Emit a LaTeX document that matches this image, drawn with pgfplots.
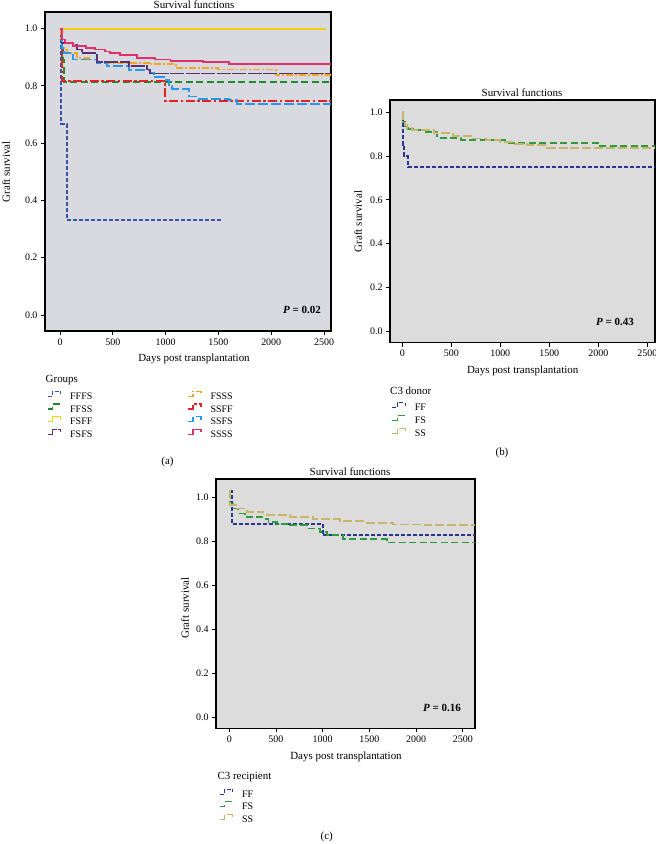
\documentclass[border=0pt]{standalone}
\usepackage{pgfplots}
\pgfplotsset{compat=1.18}
\usepackage{fontspec}
\setmainfont{Liberation Serif}

\definecolor{bga}{HTML}{D9DAE0}
\definecolor{bgb}{HTML}{DCDCDC}
\definecolor{cFFFS}{HTML}{3555AA}
\definecolor{cFFSS}{HTML}{1E8A2A}
\definecolor{cFSFF}{HTML}{F5D010}
\definecolor{cFSFS}{HTML}{5A3274}
\definecolor{cFSSS}{HTML}{F5A428}
\definecolor{cSSFF}{HTML}{E02424}
\definecolor{cSSFS}{HTML}{2A98E8}
\definecolor{cSSSS}{HTML}{E0306C}
\definecolor{cFF}{HTML}{2A3591}
\definecolor{cFS}{HTML}{2E9C3C}
\definecolor{cSS}{HTML}{C9B46A}

\pgfplotsset{
  km/.style={
    scale only axis,
    anchor=south west,
    axis line style={line width=1.1bp, black},
    tick pos=left, tick align=outside, major tick length=4bp,
    tick style={black, line width=0.8bp},
    xtick={0,500,1000,1500,2000,2500},
    ytick={0,0.2,0.4,0.6,0.8,1},
    /pgf/number format/assume math mode=true,
    tick label style={font=\fontsize{10}{12}\selectfont},
    xticklabel style={/pgf/number format/1000 sep={}},
    yticklabel style={/pgf/number format/fixed, /pgf/number format/fixed zerofill, /pgf/number format/precision=1},
    every axis plot/.append style={const plot, line width=1.9bp},
    legend image code/.code={\draw[#1, line width=1.2bp] (0bp,1bp)--(5bp,1bp)--(5bp,6bp)--(13bp,6bp)--(13bp,3bp);},
    legend cell align=left,
    legend style={draw=none, fill=none, inner sep=0pt, outer sep=0pt, anchor=north west,
      font=\fontsize{10}{10}\selectfont,
      nodes={inner sep=1bp, text height=7bp, text depth=3bp},
      /tikz/every odd column/.append style={column sep=8bp}},
  }
}

\begin{document}
\begin{tikzpicture}[x=1bp,y=1bp]
\path[use as bounding box] (0,0) rectangle (656,844);

% ---------------- Panel (a)
\begin{axis}[km, at={(45bp,513bp)}, width=286bp, height=319bp,
  xmin=-142, xmax=2566, ymin=-0.056, ymax=1.058,
  axis background/.style={fill=bga},
  legend columns=2,
  legend style={at={(0.007,-0.1875)},
    /tikz/every even column/.append style={column sep=94bp}}]
\addplot[cFFFS, dash pattern=on 4bp off 2bp] coordinates {(0,1.0) (12,0.667) (63,0.333) (1530,0.333)};
\addlegendentry{FFFS}
\addplot[cFSSS, dash pattern=on 7bp off 2bp on 2bp off 2bp] coordinates {(0,1.0) (8,0.96) (20,0.94) (35,0.927) (63,0.914) (160,0.897) (285,0.892) (350,0.884) (445,0.881) (856,0.876) (1100,0.862) (1500,0.857) (2045,0.837) (2600,0.837)};
\addlegendentry{FSSS}
\addplot[cFFSS, dash pattern=on 7bp off 3.5bp] coordinates {(0,1.0) (15,0.93) (25,0.89) (35,0.815) (2600,0.815)};
\addlegendentry{FFSS}
\addplot[cSSFF, dash pattern=on 9bp off 2.5bp on 2.5bp off 2.5bp] coordinates {(0,1.0) (20,0.816) (998,0.748) (2600,0.748)};
\addlegendentry{SSFF}
\addplot[cFSFF] coordinates {(0,1.0) (2515,1.0)};
\addlegendentry{FSFF}
\addplot[cSSFS, dash pattern=on 10bp off 3bp] coordinates {(0,1.0) (16,0.932) (38,0.914) (127,0.892) (349,0.88) (444,0.868) (650,0.854) (856,0.845) (888,0.83) (983,0.822) (1030,0.80) (1060,0.789) (1220,0.763) (1315,0.754) (1600,0.75) (1680,0.737) (2600,0.737)};
\addlegendentry{SSFS}
\addplot[cFSFS, dash pattern=on 14bp off 1.5bp] coordinates {(0,1.0) (20,0.95) (127,0.944) (158,0.927) (206,0.914) (348,0.884) (650,0.868) (824,0.857) (856,0.843) (2600,0.843)};
\addlegendentry{FSFS}
\addplot[cSSSS] coordinates {(0,1.0) (16,0.962) (48,0.95) (127,0.938) (250,0.932) (333,0.927) (428,0.92) (475,0.914) (570,0.909) (729,0.897) (903,0.892) (1046,0.888) (1350,0.884) (1600,0.876) (2600,0.876)};
\addlegendentry{SSSS}
\end{axis}

% ---------------- Panel (b)
\begin{axis}[km, at={(390bp,501.3bp)}, width=265bp, height=242.7bp,
  xmin=-125, xmax=2579, ymin=-0.053, ymax=1.056,
  axis background/.style={fill=bgb},
  legend style={at={(0.0064,-0.2443)}, nodes={text depth=3.5bp}}]
\addplot[cFF, dash pattern=on 4bp off 2bp] coordinates {(0,1.0) (10,0.85) (20,0.80) (55,0.75) (2600,0.75)};
\addlegendentry{FF}
\addplot[cFS, dash pattern=on 7bp off 3.5bp] coordinates {(0,1.0) (10,0.955) (30,0.935) (60,0.925) (150,0.918) (220,0.91) (350,0.883) (600,0.874) (1050,0.858) (2000,0.845) (2600,0.845)};
\addlegendentry{FS}
\addplot[cSS, dash pattern=on 9bp off 3bp] coordinates {(0,1.0) (8,0.96) (25,0.94) (50,0.93) (100,0.92) (320,0.905) (520,0.893) (700,0.88) (850,0.872) (1000,0.862) (1150,0.855) (1275,0.849) (1480,0.838) (1700,0.835) (2600,0.833)};
\addlegendentry{SS}
\end{axis}

% ---------------- Panel (c)
\begin{axis}[km, at={(216bp,115.7bp)}, width=259bp, height=249.3bp,
  xmin=-142, xmax=2631, ymin=-0.051, ymax=1.083,
  axis background/.style={fill=bgb},
  legend style={at={(0.0116,-0.2419)}, nodes={text height=6.8bp, text depth=2.9bp}}]
\addplot[cFF, dash pattern=on 4bp off 2bp] coordinates {(0,1.027) (28,0.88) (1000,0.827) (2650,0.827)};
\addlegendentry{FF}
\addplot[cFS, dash pattern=on 7bp off 3.5bp] coordinates {(0,1.027) (10,0.971) (45,0.949) (98,0.926) (171,0.91) (349,0.903) (420,0.888) (509,0.88) (651,0.873) (829,0.858) (971,0.842) (1043,0.827) (1221,0.809) (1684,0.794) (2650,0.794)};
\addlegendentry{FS}
\addplot[cSS, dash pattern=on 9bp off 3bp] coordinates {(0,1.027) (10,0.965) (82,0.949) (189,0.933) (366,0.921) (651,0.91) (900,0.899) (1185,0.891) (1470,0.883) (1755,0.876) (2100,0.873) (2650,0.873)};
\addlegendentry{SS}
\end{axis}

% ---------------- Text
\begin{scope}[every node/.style={font=\fontsize{11}{13}\selectfont, inner sep=0pt}]
\node[anchor=base] at (194,835.6) {Survival functions};
\node[anchor=base] at (522,747.3) {Survival functions};
\node[anchor=base] at (350,368.3) {Survival functions};
\node[anchor=base] at (194,482) {Days post transplantation};
\node[anchor=base] at (522.7,470) {Days post transplantation};
\node[anchor=base] at (346,84) {Days post transplantation};
\node[rotate=90] at (6,672.3) {Graft survival};
\node[rotate=90] at (358,622.5) {Graft survival};
\node[rotate=90] at (185,236) {Graft survival};
\node at (302,534) {\bfseries\itshape P\upshape\ = 0.02};
\node at (615,521.7) {\bfseries\itshape P\upshape\ = 0.43};
\node at (442,136.3) {\bfseries\itshape P\upshape\ = 0.16};
\node at (167.5,382.3) {(a)};
\node at (502,391.3) {(b)};
\node at (326.7,7) {(c)};
\node[anchor=base west] at (45.5,461.5) {Groups};
\node[anchor=base west] at (390,449) {C3 donor};
\node[anchor=base west] at (217.3,64) {C3 recipient};
\end{scope}
\end{tikzpicture}
\end{document}
